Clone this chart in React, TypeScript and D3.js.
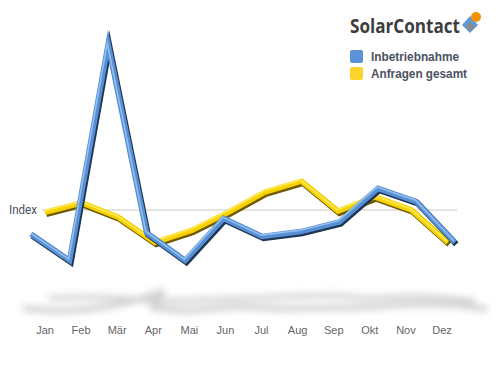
import React from "react";
import * as d3 from "d3";

const months = ["Jan", "Feb", "Mär", "Apr", "Mai", "Jun", "Jul", "Aug", "Sep", "Okt", "Nov", "Dez"];
const inbetriebnahme = [80, 58, 238, 81, 58, 93, 78, 82, 90, 118, 107, 73];
const anfragen = [98, 106, 94, 73, 83, 98, 115, 124, 99, 111, 100, 73];
const indexValue = 100;
const seriesNames = ["Inbetriebnahme", "Anfragen gesamt"];

const W = 500;
const H = 377;

export default function App() {
  const y = d3.scaleLinear().domain([0, 250]).range([330, 30]);
  const xLabel = d3.scalePoint<string>().domain(months).range([45, 442]);
  const xBlue = d3.scalePoint<string>().domain(months).range([31, 455]);
  const xYellow = d3.scalePoint<string>().domain(months).range([45, 448]);

  const blueLine = d3
    .line<number>()
    .x((_, i) => xBlue(months[i]) as number)
    .y((d) => y(d));
  const yellowLine = d3
    .line<number>()
    .x((_, i) => xYellow(months[i]) as number)
    .y((d) => y(d));

  const y0 = y(indexValue);
  const shadowLine = (xs: d3.ScalePoint<string>, vals: number[], dy: number, stretch: number) =>
    d3
      .line<number>()
      .x((d, i) => ((xs(months[i]) as number) - 240) * stretch + 250 + (y0 - y(d)) * 0.3 + 10)
      .y((d) => dy - (y0 - y(d)) * 0.09)
      .curve(d3.curveMonotoneX)(vals) as string;

  const ribbon = (d: string, main: string, dark: string, light: string) => (
    <g strokeLinejoin="miter" strokeMiterlimit={6} fill="none">
      <path d={d} stroke={dark} strokeWidth={6} transform="translate(1.3,1.8)" />
      <path d={d} stroke={main} strokeWidth={5.5} />
      <path d={d} stroke={light} strokeWidth={1.6} transform="translate(-0.9,-1.3)" opacity={0.75} />
    </g>
  );

  return (
    <svg width={W} height={H} style={{ position: "absolute", left: 0, top: 0, background: "#fff" }}>
      <defs>
        <filter id="blur" x="-20%" y="-300%" width="140%" height="700%">
          <feGaussianBlur stdDeviation="3.5" />
        </filter>
      </defs>
      <rect width={W} height={H} fill="#fff" />

      {/* shadow */}
      <g filter="url(#blur)" opacity={0.3}>
        <path d={shadowLine(xYellow, anfragen, 298, 1.08)} fill="none" stroke="#666" strokeWidth={5} />
        <path d={shadowLine(xBlue, inbetriebnahme, 306, 1.1)} fill="none" stroke="#666" strokeWidth={6} />
      </g>

      {/* index line */}
      <line x1={42} x2={457} y1={y0} y2={y0} stroke="#c8c8c8" strokeWidth={1} />
      <text x={37} y={y0 + 3.5} textAnchor="end" fontFamily="'Liberation Sans Narrow', 'Roboto', sans-serif" fontSize={12.5} fill="#4a5262" textLength={28} lengthAdjust="spacingAndGlyphs">
        Index
      </text>

      {ribbon(yellowLine(anfragen) as string, "#f8d200", "#6e5a00", "#fff27a")}
      {ribbon(blueLine(inbetriebnahme) as string, "#5590d4", "#1f3555", "#a8cdf5")}

      {/* month labels */}
      {months.map((m) => (
        <text key={m} x={xLabel(m)} y={334} textAnchor="middle" fontFamily="'Liberation Sans', Arial, sans-serif" fontSize={11} fill="#666">
          {m}
        </text>
      ))}

      {/* logo */}
      <text x={350} y={33} fontFamily="'Open Sans', 'DejaVu Sans', sans-serif" fontWeight={700} fontSize={19} fill="#3d3d3d" textLength={110} lengthAdjust="spacingAndGlyphs">
        SolarContact
      </text>
      <g transform="translate(471,22)">
        <path d="M-9,3 L-1,-6 L7,3 L-1,11 Z" fill="#5e9ad8" />
        <path d="M-5,4 L-1,0 L4,5 L-1,9 Z" fill="#8a8a8a" />
        <circle cx={5} cy={-5} r={5} fill="#f39200" />
      </g>

      {/* legend */}
      <rect x={350} y={50} width={13} height={13} rx={2} fill="#5b93d6" />
      <rect x={350} y={67} width={13} height={13} rx={2} fill="#fbd42a" />
      <text x={371} y={61} fontFamily="'Liberation Sans Narrow', 'Liberation Sans', sans-serif" fontWeight={700} fontSize={13.5} fill="#4a5262" textLength={88} lengthAdjust="spacingAndGlyphs">
        {seriesNames[0]}
      </text>
      <text x={371} y={78} fontFamily="'Liberation Sans Narrow', 'Liberation Sans', sans-serif" fontWeight={700} fontSize={13.5} fill="#4a5262" textLength={96} lengthAdjust="spacingAndGlyphs">
        {seriesNames[1]}
      </text>
    </svg>
  );
}
